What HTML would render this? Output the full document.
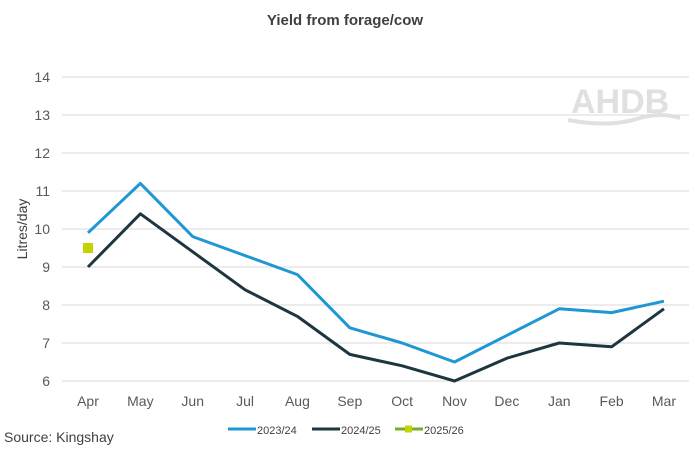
<!DOCTYPE html>
<html><head><meta charset="utf-8"><style>
body{margin:0;background:#fff;font-family:"Liberation Sans",sans-serif}
svg text{font-family:"Liberation Sans",sans-serif}
</style></head><body>
<svg width="689" height="448" xmlns="http://www.w3.org/2000/svg">
<text x="345" y="25" text-anchor="middle" font-size="15" font-weight="bold" fill="#404040">Yield from forage/cow</text>
<g id="grid"></g>
<g id="yt"></g>
<g id="xt"></g>
<text transform="translate(27,229) rotate(-90)" text-anchor="middle" font-size="14" fill="#404040">Litres/day</text>
<g>
<text x="571" y="113" font-size="34" font-weight="bold" fill="#e0e0e0">AHDB</text>
<path d="M568 120 Q610 128 640 118 Q660 112 680 118" stroke="#e0e0e0" stroke-width="4" fill="none"/>
</g>
<g id="series"></g>
<g>
<g><line x1="228" y1="429" x2="256" y2="429" stroke="#1f97d4" stroke-width="3"/><text x="257" y="434" font-size="11" fill="#404040">2023/24</text></g>
<g><line x1="312" y1="429" x2="340" y2="429" stroke="#1d3640" stroke-width="3"/><text x="341" y="434" font-size="11" fill="#404040">2024/25</text></g>
<g><line x1="395" y1="429" x2="423" y2="429" stroke="#7aab2a" stroke-width="3"/><rect x="405" y="425.5" width="7" height="7" fill="#c4d400"/><text x="424" y="434" font-size="11" fill="#404040">2025/26</text></g>
</g>
<text x="4" y="442" font-size="14" fill="#404040">Source: Kingshay</text>
</svg>
<script>
const categories=["Apr","May","Jun","Jul","Aug","Sep","Oct","Nov","Dec","Jan","Feb","Mar"];
const s2324=[9.9,11.2,9.8,9.3,8.8,7.4,7.0,6.5,7.2,7.9,7.8,8.1];
const s2425=[9.0,10.4,9.4,8.4,7.7,6.7,6.4,6.0,6.6,7.0,6.9,7.9];
const s2526=[9.5];
const yTicks=[6,7,8,9,10,11,12,13,14];
const NS="http://www.w3.org/2000/svg";
const x=i=>88+i*52.36, y=v=>381-(v-6)*38;
function mk(t,a,p){const e=document.createElementNS(NS,t);for(const k in a)e.setAttribute(k,a[k]);p.appendChild(e);return e;}
const grid=document.getElementById('grid'),yt=document.getElementById('yt'),xt=document.getElementById('xt'),ser=document.getElementById('series');
yTicks.forEach(v=>{
 const l=mk('line',{x1:62,x2:690,y1:y(v),y2:y(v),stroke:'#d9d9d9','stroke-width':1},grid);
 
 
 const t=mk('text',{x:50,y:y(v)+5,'text-anchor':'end','font-size':14,fill:'#595959'},yt);t.textContent=v;
 
 
});
categories.forEach((c,i)=>{
 const t=mk('text',{x:x(i),y:406,'text-anchor':'middle','font-size':14,fill:'#595959'},xt);t.textContent=c;
 
 
});
function line(d,col,name){
 const p=mk('polyline',{points:d.map((v,i)=>x(i)+','+y(v)).join(' '),fill:'none',stroke:col,'stroke-width':3,'stroke-linejoin':'round'},ser);
 
 
}
line(s2324,'#1f97d4','line-2023-24');
line(s2425,'#1d3640','line-2024-25');
s2526.forEach((v,i)=>{
 const r=mk('rect',{x:x(i)-5,y:y(v)-5,width:10,height:10,fill:'#c4d400'},ser);
 
 
});
</script>
</body></html>
